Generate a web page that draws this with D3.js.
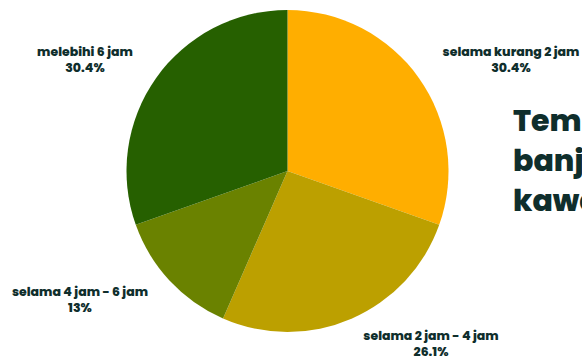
<!DOCTYPE html>
<html lang="en">
<head>
    <meta charset="UTF-8">
    <title>Tempoh banjir</title>
    <script src="https://d3js.org/d3.v7.min.js"></script>
    <style>
        body { margin: 0; background: #fff; }
        text { font-family: Poppins, Inter, "Open Sans", sans-serif; fill: #0f2e2c; }
    </style>
</head>
<body>
    <div id="chart"></div>
    <script>
        var categories = ["selama kurang 2 jam", "selama 2 jam - 4 jam", "selama 4 jam - 6 jam", "melebihi 6 jam"];
        var values = [30.4, 26.1, 13, 30.4];
        var valueLabels = ["30.4%", "26.1%", "13%", "30.4%"];
        var colors = ["#ffae00", "#bca000", "#6a8200", "#266000"];
        var titleLines = ["Tempoh", "banjir", "kawasan"];

        var width = 582;
        var height = 363;
        var cx = 287.5, cy = 171, radius = 161;

        // label anchor points (centre of the two text lines)
        var labelPos = [[511, 60], [431, 344], [80, 300], [85, 60]];

        var data = categories.map((c, i) => ({ name: c, value: values[i], label: valueLabels[i] }));

        var svg = d3.select('#chart').append('svg')
            .attr('width', width)
            .attr('height', height);

        var pie = d3.pie().sort(null).value(d => d.value);
        var arc = d3.arc().innerRadius(0).outerRadius(radius);
        var color = d3.scaleOrdinal().domain(categories).range(colors);

        svg.append('g')
            .attr('transform', `translate(${cx},${cy})`)
            .selectAll('path')
            .data(pie(data))
            .enter().append('path')
                .attr('d', arc)
                .style('fill', d => color(d.data.name));

        var labels = svg.selectAll('.lbl')
            .data(data)
            .enter().append('text')
                .attr('class', 'lbl')
                .attr('text-anchor', 'middle')
                .attr('font-size', 12.5)
                .attr('font-weight', 800)
                .attr('x', (d, i) => labelPos[i][0])
                .attr('y', (d, i) => labelPos[i][1]);
        labels.append('tspan')
            .attr('x', (d, i) => labelPos[i][0])
            .attr('dy', -4)
            .text(d => d.name);
        labels.append('tspan')
            .attr('x', (d, i) => labelPos[i][0])
            .attr('dy', 16)
            .text(d => d.label);

        // title runs off the right edge, as in the original
        svg.append('text')
            .attr('x', 513)
            .attr('y', 131)
            .attr('font-size', 30)
            .attr('font-weight', 800)
            .selectAll('tspan')
            .data(titleLines)
            .enter().append('tspan')
                .attr('x', 513)
                .attr('dy', (d, i) => i === 0 ? 0 : 40)
                .text(d => d);
    </script>
</body>
</html>
